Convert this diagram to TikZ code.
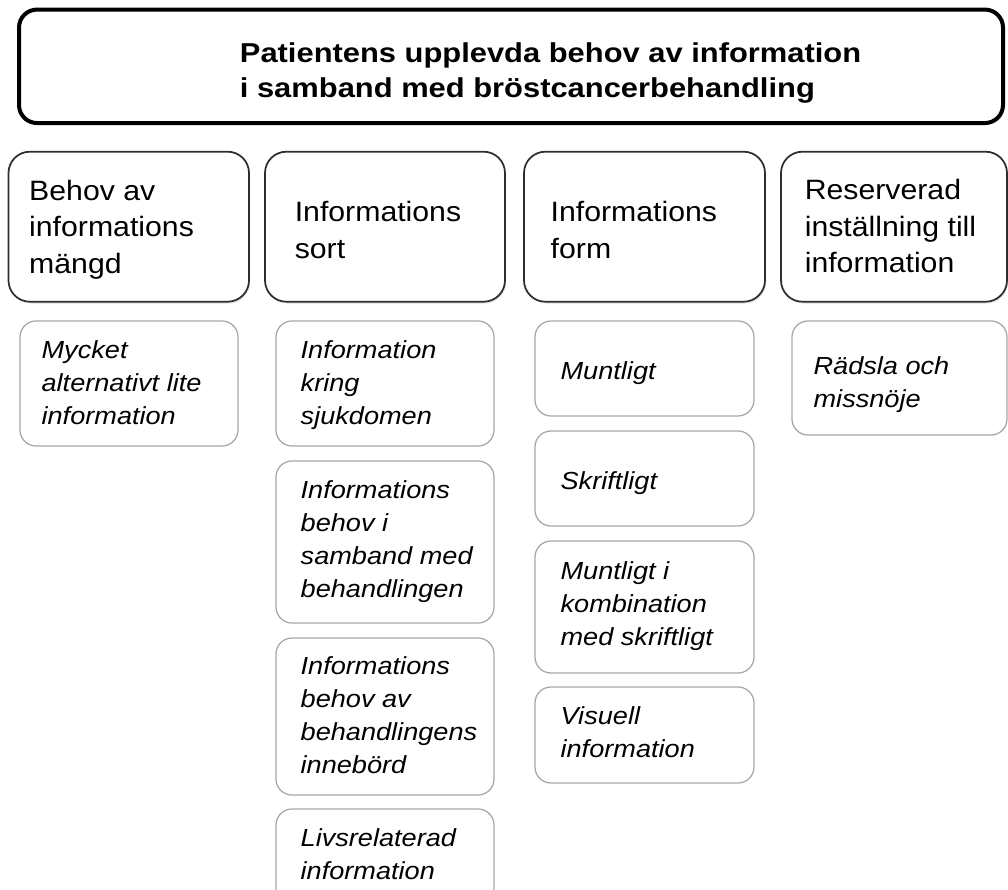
\documentclass[tikz,border=0pt]{standalone}
\usepackage{fontspec}
\setmainfont{Liberation Sans}
\newfontfamily\ttlfont[FakeStretch=1.13]{Liberation Sans}
\newfontfamily\hdrfont[FakeStretch=1.08]{Liberation Sans}
\newfontfamily\subfont[FakeStretch=1.1]{Liberation Sans}
\usetikzlibrary{shadows}
\definecolor{hdrline}{HTML}{2E2E2E}
\definecolor{subline}{HTML}{A8A8A8}
\begin{document}
\begin{tikzpicture}[x=0.75pt,y=-0.75pt,
  titlebox/.style={draw=black, line width=3pt, rounded corners=13.5pt, inner sep=0pt},
  hdrbox/.style={draw=hdrline, line width=1.3pt, rounded corners=16pt, inner sep=0pt, fill=white,
     drop shadow={shadow xshift=0.9pt, shadow yshift=-1.4pt, opacity=0.22, fill=gray}},
  subbox/.style={draw=subline, line width=0.95pt, rounded corners=12pt, inner sep=0pt, fill=white},
  ttltext/.style={inner sep=0pt, anchor=north west, align=left, font=\ttlfont\bfseries\fontsize{20.5}{26.2}\selectfont},
  hdrtext/.style={inner sep=0pt, anchor=north west, align=left, font=\hdrfont\fontsize{21}{27.4}\selectfont},
  subtext/.style={inner sep=0pt, anchor=north west, align=left, font=\subfont\itshape\fontsize{18.5}{24.75}\selectfont}]
\useasboundingbox (0,0) rectangle (1008,890);

% title
\node[titlebox, minimum width=738pt, minimum height=85.1pt] (top) at (511,66.3) {};
\node[ttltext] (toptext) at ([xshift=167pt, yshift=-26.5pt]top.north west) {Patientens upplevda behov av information\\i samband med bröstcancerbehandling};

% headers
\node[hdrbox, minimum width=180.4pt, minimum height=112.5pt] (h1) at (128.75,226.7) {};
\node[hdrtext] (h1t) at ([xshift=16pt, yshift=-21.8pt]h1.north west) {Behov av\\informations\\mängd};
\node[hdrbox, minimum width=180pt, minimum height=112.5pt] (h2) at (385,226.7) {};
\node[hdrtext] (h2t) at ([xshift=22.8pt, yshift=-37.6pt]h2.north west) {Informations\\sort};
\node[hdrbox, minimum width=180.75pt, minimum height=112.5pt] (h3) at (644.5,226.7) {};
\node[hdrtext] (h3t) at ([xshift=20.5pt, yshift=-37.6pt]h3.north west) {Informations\\form};
\node[hdrbox, minimum width=169.5pt, minimum height=112.5pt] (h4) at (894,226.7) {};
\node[hdrtext] (h4t) at ([xshift=18.3pt, yshift=-21.1pt]h4.north west) {Reserverad\\inställning till\\information};

% column 1
\node[subbox, minimum width=163.5pt, minimum height=93.75pt] (s1) at (129,383.5) {};
\node[subtext] (s1t) at ([xshift=16.5pt, yshift=-15.2pt]s1.north west) {Mycket\\alternativt lite\\information};

% column 2
\node[subbox, minimum width=163.5pt, minimum height=93.75pt] (s2a) at (385,383.5) {};
\node[subtext] (s2at) at ([xshift=18.8pt, yshift=-15.2pt]s2a.north west) {Information\\kring\\sjukdomen};
\node[subbox, minimum width=163.5pt, minimum height=121.5pt] (s2b) at (385,542) {};
\node[subtext] (s2bt) at ([xshift=18.8pt, yshift=-15.2pt]s2b.north west) {Informations\\behov i\\samband med\\behandlingen};
\node[subbox, minimum width=163.5pt, minimum height=117.75pt] (s2c) at (385,716.5) {};
\node[subtext] (s2ct) at ([xshift=18.8pt, yshift=-14.6pt]s2c.north west) {Informations\\behov av\\behandlingens\\innebörd};
\node[subbox, minimum width=163.5pt, minimum height=72pt] (s2d) at (385,857) {};
\node[subtext] (s2dt) at ([xshift=18.8pt, yshift=-15.2pt]s2d.north west) {Livsrelaterad\\information};

% column 3
\node[subbox, minimum width=164.25pt, minimum height=71.25pt] (s3a) at (644.5,368.5) {};
\node[subtext] (s3at) at ([xshift=19.5pt, yshift=-30.9pt]s3a.north west) {Muntligt};
\node[subbox, minimum width=164.25pt, minimum height=71.25pt] (s3b) at (644.5,478.5) {};
\node[subtext] (s3bt) at ([xshift=19.5pt, yshift=-30.8pt]s3b.north west) {Skriftligt};
\node[subbox, minimum width=164.25pt, minimum height=99pt] (s3c) at (644.5,607) {};
\node[subtext] (s3ct) at ([xshift=19.5pt, yshift=-15.9pt]s3c.north west) {Muntligt i\\kombination\\med skriftligt};
\node[subbox, minimum width=164.25pt, minimum height=72pt] (s3d) at (644.5,735) {};
\node[subtext] (s3dt) at ([xshift=19.5pt, yshift=-15.2pt]s3d.north west) {Visuell\\information};

% column 4
\node[subbox, minimum width=161.25pt, minimum height=85.5pt] (s4) at (899.5,378) {};
\node[subtext] (s4t) at ([xshift=16.5pt, yshift=-27pt]s4.north west) {Rädsla och\\missnöje};
\end{tikzpicture}
\end{document}
